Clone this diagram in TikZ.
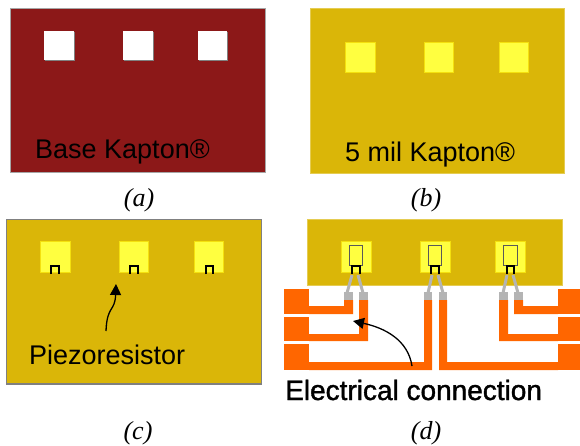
\documentclass[tikz,border=0pt]{standalone}
\usepackage{fontspec}
\setmainfont{Liberation Sans}
\newfontfamily\capfont{Liberation Serif}
\newfontfamily\boldish[FakeBold=1.4]{Liberation Sans}
\usetikzlibrary{arrows.meta}
\definecolor{maroon}{HTML}{8C1818}
\definecolor{gold}{HTML}{DAB608}
\definecolor{padyellow}{HTML}{FFFF40}
\definecolor{trace}{HTML}{FF6600}
\definecolor{leadgrey}{HTML}{B4B4B4}
\tikzset{
  lbl/.style={anchor=base west,inner sep=0pt,text=black,font=\fontsize{27}{27}\selectfont},
  captxt/.style={anchor=base,inner sep=0pt,font=\capfont\itshape\fontsize{26}{26}\selectfont},
  sheetA/.style={fill=maroon,draw=gray!70,line width=0.7pt},
  sheetB/.style={fill=gold,draw=gold!70!white,line width=0.7pt},
  windowbox/.style={fill=white,draw=none},
  winpad/.style={fill=padyellow,draw=yellow!70!gold,line width=0.5pt},
  ures/.style={draw=black,line width=1.9pt,line cap=butt},
  outl/.style={draw=black!65,line width=0.9pt},
  leadline/.style={draw=leadgrey,line width=3pt},
  padbox/.style={fill=leadgrey,draw=none},
  tracebox/.style={fill=trace,draw=none},
  pointer/.style={draw=black,line width=1.3pt,-{Triangle[length=11pt,width=11pt]}}
}
\begin{document}
\begin{tikzpicture}[x=1pt,y=-1pt]
\useasboundingbox (0,0) rectangle (580,445);
% (a)
\draw[sheetA] (10,8) rectangle (265,172);
\foreach \xa/\xb in {44/74,123/153,198/227}{
  \fill[gray] (\xa+1,32) rectangle (\xb+1,61);
  \fill[windowbox] (\xa,31) rectangle (\xb,60);
}
\node[lbl] (ta) at (35,158) {Base Kapton®};
\node[captxt] (ca) at (139,206) {(a)};
% (b)
\draw[sheetB] (310,8) rectangle (564,173);
\foreach \xa/\xb in {345/375,424/453,499/528}{
  \draw[winpad] (\xa,42) rectangle (\xb,72);
}
\node[lbl] (tb) at (345,161) {5 mil Kapton®};
\node[captxt] (cb) at (426,206) {(b)};
% (c)
\fill[gray] (6,219) rectangle (262,385);
\fill[gold] (6.6,219.6) rectangle (260.5,383);
\foreach \xa/\xb/\ua/\ub in {40/70/51/59,119/148/130/138,194/223/206/213}{
  \draw[winpad] (\xa,241) rectangle (\xb,272);
  \draw[ures] (\ua,274) -- (\ua,266) -- (\ub,266) -- (\ub,274);
}
\coordinate (p0) at (106,331);
\coordinate (p1) at (116,284);
\draw[pointer] (p0) .. controls (107,305) and (115,312) .. (p1);
\node[lbl] (tc) at (29,364) {Piezoresistor};
\node[captxt] (cc) at (138,439) {(c)};
% (d) traces
\fill[tracebox] (284,289) rectangle (309,314);
\fill[tracebox] (284,317) rectangle (309,341);
\fill[tracebox] (284,344) rectangle (309,370);
\fill[tracebox] (558,289) rectangle (580,314);
\fill[tracebox] (558,317) rectangle (580,341);
\fill[tracebox] (558,344) rectangle (580,370);
\fill[tracebox] (309,306) -- (344,306) -- (344,300) -- (353,300) -- (353,314) -- (309,314) -- cycle;
\fill[tracebox] (309,334) -- (359,334) -- (359,300) -- (368,300) -- (368,341) -- (309,341) -- cycle;
\fill[tracebox] (309,362) -- (424,362) -- (424,300) -- (432,300) -- (432,370) -- (309,370) -- cycle;
\fill[tracebox] (558,362) -- (447,362) -- (447,300) -- (439,300) -- (439,370) -- (558,370) -- cycle;
\fill[tracebox] (558,334) -- (508,334) -- (508,300) -- (499,300) -- (499,341) -- (558,341) -- cycle;
\fill[tracebox] (558,306) -- (523,306) -- (523,300) -- (514,300) -- (514,314) -- (558,314) -- cycle;
% (d) sheet
\draw[sheetB] (307,219) rectangle (562,285);
\foreach \xa/\xb/\ra/\rb/\ua/\ub in {341/371/349.5/362.5/352/360,420/450/428.5/441.5/431/439,495/525/503.5/517/507/514}{
  \draw[winpad] (\xa,241) rectangle (\xb,272);
  \draw[outl] (\ra,265) rectangle (\rb,245);
  \draw[ures] (\ua,274) -- (\ua,266) -- (\ub,266) -- (\ub,274);
}
% leads
\foreach \sa/\pa/\sb/\pb in {352/347/358/363,432/428/438/443,507/503/513/518}{
  \draw[leadline] (\sa,275) -- (\pa,293);
  \draw[leadline] (\sb,275) -- (\pb,293);
}
\foreach \xa/\xb in {344/353,359/368,424/432,439/447,499/508,514/523}{
  \fill[padbox] (\xa,292) rectangle (\xb,300);
}
\coordinate (q0) at (412,366);
\coordinate (q1) at (353,321);
\draw[pointer] (q0) .. controls (408,340) and (385,328) .. (q1);
\node[lbl,font=\fontsize{28}{28}\selectfont] (td) at (285,400) {\boldish Electrical connection};
\node[captxt] (cd) at (426,439) {(d)};
\end{tikzpicture}
\end{document}
